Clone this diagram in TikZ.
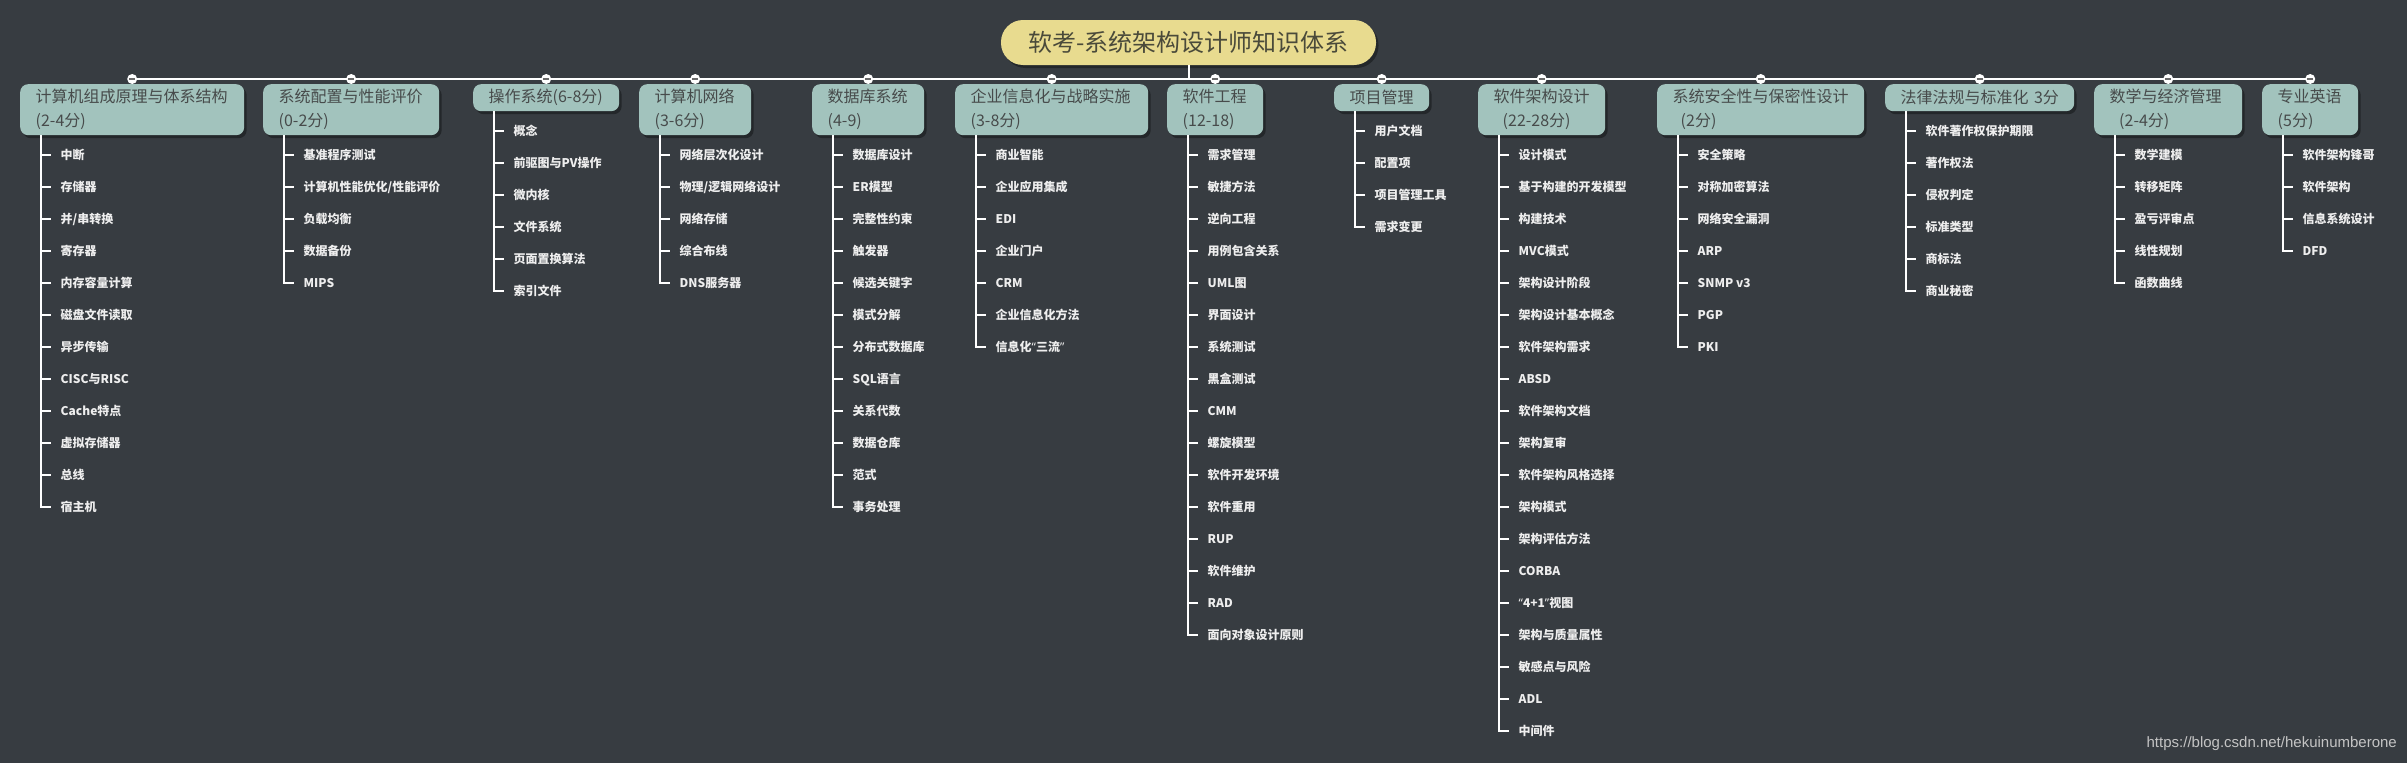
\documentclass[tikz,border=0pt]{standalone}
\usepackage{fontspec}
\setmainfont{Noto Sans CJK SC}
\newfontfamily\wmfont{Liberation Sans}
\newfontfamily\qf{Noto Sans}
\usetikzlibrary{calc,shadows}
\definecolor{bg}{HTML}{373C41}
\definecolor{boxfill}{HTML}{A2C3BD}
\definecolor{boxtext}{HTML}{474B4B}
\definecolor{titlefill}{HTML}{E8DB8F}
\definecolor{titletext}{HTML}{4A4A3A}
\definecolor{kidtext}{HTML}{EEEEEE}
\definecolor{wmcol}{HTML}{C4C4C4}
\definecolor{knobline}{HTML}{6A6A6A}

\newcommand\mkbox[6]{% name, left, width, textwidth, height, title
  \node[box, anchor=north west, minimum width=#3pt, text width=#4pt, minimum height=#5pt] (#1) at (#2,84) {#6};
}
\newcommand\mkkids[2]{% box name, children
  \foreach \t [count=\i] in {#2} {
    \node[kid] (#1-\i) at ($(#1.south west)+(40.5,{20+(\i-1)*31.95})$) {\t};
    \draw[twig] ([xshift=21pt]#1.south west) |- ([xshift=-10pt]#1-\i.west);
  }
}

\begin{document}
\begin{tikzpicture}[x=1pt,y=-1pt,
  box/.style={fill=boxfill, rounded corners=8pt, inner xsep=15.5pt, inner ysep=0pt,
    align=left, text=boxtext, font=\fontsize{16pt}{24pt}\selectfont,
    drop shadow={shadow xshift=2.5pt, shadow yshift=-3pt, fill=black, opacity=0.35}},
  titlebox/.style={fill=titlefill, rounded corners=22pt, minimum width=375pt, minimum height=45pt,
    inner sep=0pt, text=titletext, font=\fontsize{24pt}{28pt}\selectfont,
    drop shadow={shadow xshift=2.5pt, shadow yshift=-3pt, fill=black, opacity=0.35}},
  kid/.style={inner sep=0pt, anchor=west, text=kidtext, text height=9pt, text depth=0pt,
    font=\fontsize{12pt}{14pt}\selectfont\bfseries},
  twig/.style={draw=white, line width=2pt},
  bus/.style={draw=white, line width=2.5pt},
  knob/.style={circle, fill=white, minimum size=10pt, inner sep=0pt,
    path picture={\draw[knobline, line width=1.3pt] ([xshift=-3.2pt]path picture bounding box.center) -- ([xshift=3.2pt]path picture bounding box.center);}},
  wm/.style={inner sep=0pt, text=wmcol, font=\wmfont\fontsize{15pt}{18pt}\selectfont}
]
\fill[bg] (0,0) rectangle (2407,763);
\useasboundingbox (0,0) rectangle (2407,763);

% title
\node[titlebox] (root) at (1188.5,42.5) {软考-系统架构设计师知识体系};

% boxes
\mkbox{b1}{20}{224}{193}{51}{计算机组成原理与体系结构\\(2-4分)}
\mkbox{b2}{263}{176}{145}{51}{系统配置与性能评价\\(0-2分)}
\mkbox{b3}{473}{146}{115}{27}{操作系统(6-8分)}
\mkbox{b4}{639}{112}{81}{51}{计算机网络\\(3-6分)}
\mkbox{b5}{812}{112}{81}{51}{数据库系统\\(4-9)}
\mkbox{b6}{955}{193}{162}{51}{企业信息化与战略实施\\(3-8分)}
\mkbox{b7}{1167}{96}{65}{51}{软件工程\\(12-18)}
\mkbox{b8}{1334}{95}{64}{27}{项目管理}
\mkbox{b9}{1478}{127}{96}{51}{软件架构设计\\\hspace*{9pt}(22-28分)}
\mkbox{b10}{1657}{207}{176}{51}{系统安全性与保密性设计\\\hspace*{8pt}(2分)}
\mkbox{b11}{1885}{189}{158}{27}{\mbox{法律法规与标准化 3分}}
\mkbox{b12}{2094}{148}{117}{51}{数学与经济管理\\\hspace*{9.5pt}(2-4分)}
\mkbox{b13}{2262}{96}{65}{51}{专业英语\\(5分)}

% bus and stem
\coordinate (bus) at (root.south |- 0,79);
\draw[twig] (root.south) -- (bus);
\draw[bus] ([yshift=5pt]b1.north) -- ([yshift=5pt]b13.north);
\foreach \b in {b1,b2,b3,b4,b5,b6,b7,b8,b9,b10,b11,b12,b13}{
  \node[knob] (\b k) at ([yshift=5pt]\b.north) {};
}

% children
\mkkids{b1}{中断,存储器,并/串转换,寄存器,内存容量计算,磁盘文件读取,异步传输,CISC与RISC,Cache特点,虚拟存储器,总线,宿主机}
\mkkids{b2}{基准程序测试,计算机性能优化/性能评价,负载均衡,数据备份,MIPS}
\mkkids{b3}{概念,前驱图与PV操作,微内核,文件系统,页面置换算法,索引文件}
\mkkids{b4}{网络层次化设计,物理/逻辑网络设计,网络存储,综合布线,DNS服务器}
\mkkids{b5}{数据库设计,ER模型,完整性约束,触发器,候选关键字,模式分解,分布式数据库,SQL语言,关系代数,数据仓库,范式,事务处理}
\mkkids{b6}{商业智能,企业应用集成,EDI,企业门户,CRM,企业信息化方法,信息化{\qf “}三流{\qf ”}}
\mkkids{b7}{需求管理,敏捷方法,逆向工程,用例包含关系,UML图,界面设计,系统测试,黑盒测试,CMM,螺旋模型,软件开发环境,软件重用,RUP,软件维护,RAD,面向对象设计原则}
\mkkids{b8}{用户文档,配置项,项目管理工具,需求变更}
\mkkids{b9}{设计模式,基于构建的开发模型,构建技术,MVC模式,架构设计阶段,架构设计基本概念,软件架构需求,ABSD,软件架构文档,架构复审,软件架构风格选择,架构模式,架构评估方法,CORBA,{\qf “}4+1{\qf ”}视图,架构与质量属性,敏感点与风险,ADL,中间件}
\mkkids{b10}{安全策略,对称加密算法,网络安全漏洞,ARP,SNMP v3,PGP,PKI}
\mkkids{b11}{软件著作权保护期限,著作权法,侵权判定,标准类型,商标法,商业秘密}
\mkkids{b12}{数学建模,转移矩阵,盈亏评审点,线性规划,函数曲线}
\mkkids{b13}{软件架构锋哥,软件架构,信息系统设计,DFD}

% watermark
\node[wm, anchor=east] (mark) at (2397,744) {https://blog.csdn.net/hekuinumberone};
\end{tikzpicture}
\end{document}
